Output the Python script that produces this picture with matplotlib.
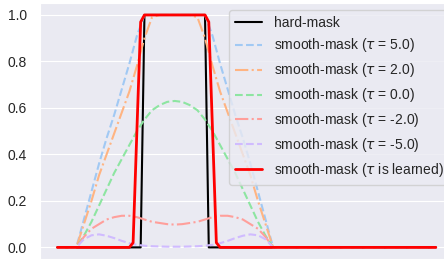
import matplotlib
matplotlib.use("Agg")
import matplotlib.pyplot as plt
import seaborn as sns

sns.set_style("darkgrid")
plt.rcParams["font.family"] = ["Liberation Sans", "DejaVu Sans"]

# Données (indice de position -> valeur du masque)
hard_x = [0, 22, 23, 39, 40, 100]
hard_y = [0, 0, 1, 1, 0, 0]

sm_x = [0, 5, 7, 9, 11, 13, 15, 17, 19, 21, 23, 25, 27, 29, 31,
        33, 35, 37, 39, 41, 43, 45, 47, 49, 51, 53, 55, 57, 100]
tau_5 = [0, 0, 0.12, 0.24, 0.36, 0.47, 0.57, 0.68, 0.79, 0.91, 1.0, 1.0, 1.0, 1.0, 1.0,
         1.0, 1.0, 1.0, 1.0, 0.91, 0.79, 0.68, 0.57, 0.47, 0.36, 0.24, 0.12, 0, 0]
tau_2 = [0, 0, 0.10, 0.20, 0.31, 0.40, 0.49, 0.58, 0.67, 0.78, 0.90, 0.99, 1.0, 1.0, 1.0,
         1.0, 1.0, 0.99, 0.90, 0.78, 0.67, 0.58, 0.49, 0.40, 0.31, 0.20, 0.10, 0, 0]
tau_0 = [0, 0, 0.05, 0.11, 0.18, 0.25, 0.32, 0.38, 0.44, 0.50, 0.55, 0.59, 0.612, 0.626, 0.63,
         0.626, 0.612, 0.59, 0.55, 0.50, 0.44, 0.38, 0.32, 0.25, 0.18, 0.11, 0.05, 0, 0]
tau_m2 = [0, 0, 0.045, 0.08, 0.10, 0.12, 0.13, 0.136, 0.136, 0.13, 0.12, 0.11, 0.105, 0.10, 0.098,
          0.10, 0.105, 0.11, 0.12, 0.13, 0.136, 0.136, 0.13, 0.12, 0.10, 0.08, 0.045, 0, 0]
tau_m5 = [0, 0, 0.035, 0.052, 0.056, 0.05, 0.04, 0.028, 0.018, 0.011, 0.007, 0.005, 0.004, 0.003, 0.003,
          0.003, 0.004, 0.005, 0.007, 0.011, 0.018, 0.028, 0.04, 0.05, 0.056, 0.052, 0.035, 0, 0]

learned_x = [0, 19, 20, 21, 22, 23, 39, 40, 41, 42, 43, 100]
learned_y = [0, 0, 0.02, 0.5, 0.97, 1.0, 1.0, 0.97, 0.5, 0.02, 0, 0]

pastel = sns.color_palette("pastel")

fig = plt.figure(figsize=(4.44, 2.59), dpi=100)
ax = fig.add_axes([40 / 444, 0, 414 / 444, 255.65 / 259])

ax.plot(hard_x, hard_y, color="black", lw=1.5, label="hard-mask")
ax.plot(sm_x, tau_5, color=pastel[0], ls="--", lw=1.5, label=r"smooth-mask ($\tau$ = 5.0)")
ax.plot(sm_x, tau_2, color=pastel[1], ls="-.", lw=1.5, label=r"smooth-mask ($\tau$ = 2.0)")
ax.plot(sm_x, tau_0, color=pastel[2], ls="--", lw=1.5, label=r"smooth-mask ($\tau$ = 0.0)")
ax.plot(sm_x, tau_m2, color=pastel[3], ls="-.", lw=1.5, label=r"smooth-mask ($\tau$ = -2.0)")
ax.plot(sm_x, tau_m5, color=pastel[4], ls="--", lw=1.5, label=r"smooth-mask ($\tau$ = -5.0)")
ax.plot(learned_x, learned_y, color="red", lw=2, label=r"smooth-mask ($\tau$ is learned)")

ax.set_xlim(-4.6, 104.8)
ax.set_ylim(-0.05, 1.05)
ax.set_xticks([])
ax.set_yticks([0, 0.2, 0.4, 0.6, 0.8, 1.0])
ax.tick_params(axis="y", labelsize=10, pad=6)

# Légende : le cadre dépasse légèrement à droite comme sur l'original
ax.legend(loc="upper right", fontsize=10, borderaxespad=0,
          bbox_to_anchor=(449 / 444, 249 / 259), bbox_transform=fig.transFigure)

fig.savefig("out.png", dpi=100)
